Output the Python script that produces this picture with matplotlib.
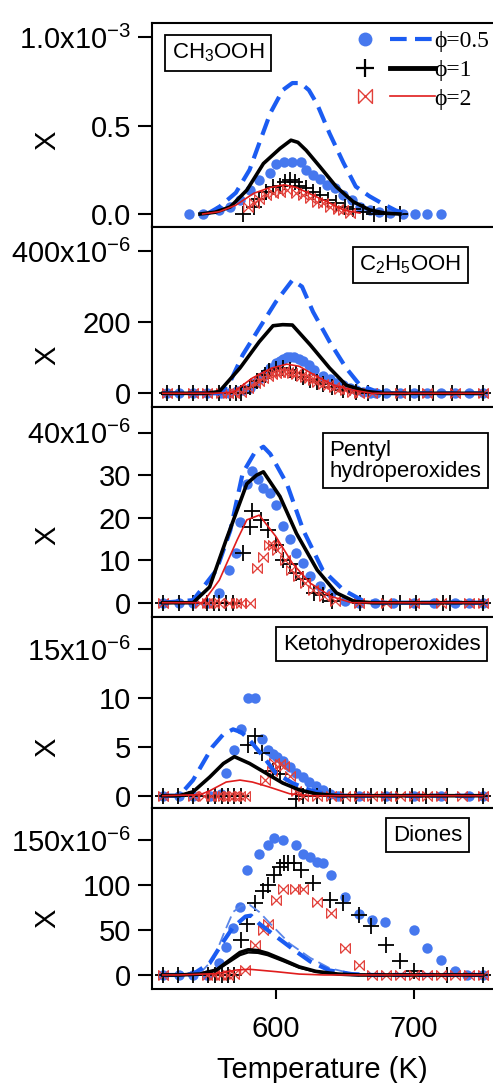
import matplotlib
matplotlib.use('Agg')
import matplotlib.pyplot as plt
from matplotlib.lines import Line2D
from matplotlib.legend_handler import HandlerBase

plt.rcParams['font.family'] = ['Liberation Sans', 'DejaVu Sans']
plt.rcParams['mathtext.fontset'] = 'custom'
plt.rcParams['mathtext.rm'] = 'Liberation Sans'
plt.rcParams['mathtext.it'] = 'Liberation Sans:italic'
plt.rcParams['mathtext.bf'] = 'Liberation Sans:bold'

# ---------------- data (temperature in K, mole fraction) ----------------
# CH3OOH, units of 1e-3
ch3_t_phi05 = [537, 547, 559, 567, 574, 581, 588, 596, 600, 606, 612, 618, 622, 627, 632, 637, 643, 649, 655, 661, 668, 675, 683, 692, 701, 710, 720]
ch3_x_phi05 = [0.0, 0.0, 0.02, 0.04, 0.08, 0.135, 0.19, 0.23, 0.285, 0.295, 0.295, 0.295, 0.25, 0.22, 0.20, 0.165, 0.145, 0.105, 0.08, 0.04, 0.02, 0.01, 0.005, 0.0, 0.0, 0.0, 0.0]
ch3_t_phi1 = [576, 584, 588, 593, 598, 603, 607, 610, 614, 617, 622, 627, 632, 638, 644, 650, 656, 663, 671, 680, 690]
ch3_x_phi1 = [0.0, 0.04, 0.087, 0.125, 0.15, 0.16, 0.18, 0.19, 0.18, 0.16, 0.145, 0.125, 0.107, 0.08, 0.06, 0.04, 0.03, 0.013, 0.0, 0.0, 0.0]
ch3_t_phi2 = [580, 584, 588, 593, 598, 603, 608, 615, 620, 625, 630, 634, 639, 645, 649, 654]
ch3_x_phi2 = [0.04, 0.06, 0.087, 0.107, 0.117, 0.125, 0.135, 0.117, 0.107, 0.09, 0.07, 0.06, 0.04, 0.03, 0.023, 0.004]
ch3_tm_05 = [550, 559, 571, 581, 588, 596, 605, 612, 618, 624, 630, 639, 649, 658, 668, 677, 687, 695]
ch3_xm_05 = [0.0, 0.04, 0.12, 0.25, 0.40, 0.57, 0.70, 0.74, 0.74, 0.70, 0.62, 0.455, 0.29, 0.155, 0.10, 0.06, 0.02, 0.0]
ch3_tm_1 = [545, 556, 567, 579, 591, 603, 611, 616, 622, 632, 644, 656, 668, 680, 690]
ch3_xm_1 = [0.0, 0.01, 0.04, 0.135, 0.285, 0.37, 0.417, 0.405, 0.36, 0.267, 0.153, 0.07, 0.023, 0.004, 0.0]
ch3_tm_2 = [547, 559, 571, 584, 596, 606, 615, 624, 637, 649, 661]
ch3_xm_2 = [0.0, 0.013, 0.05, 0.117, 0.15, 0.165, 0.15, 0.117, 0.07, 0.023, 0.005]

# C2H5OOH, units of 1e-6
c2_t_phi05 = [521, 530, 540, 550, 560, 566, 572, 576, 581, 585, 588, 591, 593, 596, 600, 603, 605, 608, 610, 613, 617, 620, 624, 628, 634, 639, 644, 649, 654, 658, 663, 668, 673, 680, 690, 700, 710, 720, 730, 740, 750]
c2_x_phi05 = [0, 0, 0, 0, 0, 2, 6, 10, 15, 28, 40, 48, 57, 70, 85, 92, 97, 101, 103, 102, 97, 90, 80, 66, 50, 40, 30, 22, 15, 10, 5, 2, 0, 0, 0, 0, 0, 0, 0, 0, 0]
c2_t_phi1 = [521, 530, 540, 550, 559, 567, 571, 575, 581, 586, 592, 595, 600, 605, 610, 615, 620, 625, 630, 634, 641, 649, 658, 667, 678, 688, 697, 704, 714, 728, 750]
c2_x_phi1 = [0, 0, 0, 0, 0, 0, 0, 0, 19, 35, 52, 62, 68, 70, 66, 57, 47, 38, 32, 26, 17, 9, 5, 0, 0, 0, 0, 0, 0, 0, 0]
c2_t_phi2 = [521, 540, 550, 560, 565, 570, 575, 580, 585, 588, 591, 594, 597, 600, 603, 606, 609, 612, 615, 618, 621, 624, 627, 630, 634, 638, 642, 646, 650, 655, 660, 670, 690, 710, 730, 750]
c2_x_phi2 = [0, 0, 0, 0, 0, 2, 5, 15, 28, 36, 43, 50, 55, 58, 61, 62, 61, 58, 55, 50, 46, 42, 38, 33, 27, 22, 17, 12, 8, 4, 1, 0, 0, 0, 0, 0]
c2_tm_05 = [518, 560, 567, 576, 588, 600, 612, 619, 627, 639, 651, 661, 673, 685, 750]
c2_xm_05 = [0, 0, 33, 108, 183, 257, 318, 300, 229, 145, 71, 23, 5, 0, 0]
c2_tm_1 = [518, 550, 559, 574, 588, 598, 605, 612, 625, 639, 651, 666, 678, 750]
c2_xm_1 = [0, 0, 5, 71, 145, 190, 193, 192, 136, 71, 23, 5, 0, 0]
c2_tm_2 = [518, 555, 569, 583, 597, 608, 617, 630, 642, 656, 670, 750]
c2_xm_2 = [0, 0, 3, 43, 71, 82, 76, 47, 23, 9, 0, 0]

# pentyl hydroperoxides, units of 1e-6
p_t_phi05 = [518, 530, 540, 550, 559, 566, 571, 574, 579, 583, 587, 591, 596, 600, 605, 610, 615, 620, 625, 632, 640, 650, 660, 672, 685, 700, 715, 730, 740, 750]
p_x_phi05 = [0, 0, 0, 0, 2.3, 7.7, 11.6, 19, 28, 31, 29, 27, 25.7, 23, 18, 15, 11.6, 9.3, 6.2, 3.9, 2.3, 0.5, 0, 0, 0, 0, 0, 0, 0, 0]
p_t_phi1 = [518, 530, 540, 550, 555, 559, 564, 569, 576, 581, 583, 589, 594, 600, 605, 610, 615, 620, 628, 634, 641, 661, 678, 690, 702, 721, 726, 750]
p_x_phi1 = [0, 0, 0, 0, 0, 0, 0, 0, 11.6, 17.8, 21.5, 19.5, 17, 13.5, 10, 9, 7, 5.5, 2.3, 1.9, 0.5, 0, 0, 0, 0, 0, 0, 0]
p_t_phi2 = [518, 545, 550, 555, 559, 566, 571, 575, 581, 586, 591, 595, 598, 601, 607, 611, 616, 621, 627, 635, 643, 660, 680, 700, 720, 740, 750]
p_x_phi2 = [0, 0, 0, 0, 0, 0, 0, 0, 0, 8.2, 10.8, 13.5, 13.5, 12.3, 10, 7.7, 6.2, 4.6, 3, 1.5, 0.5, 0, 0, 0, 0, 0, 0]
p_tm_05 = [518, 540, 557, 567, 576, 585, 591, 596, 608, 620, 634, 649, 663, 675, 750]
p_xm_05 = [0, 0.6, 7.7, 17, 30.5, 35.5, 36.7, 35, 28, 17, 7.7, 3, 0.5, 0, 0]
p_tm_1 = [518, 540, 552, 564, 579, 586, 591, 603, 615, 630, 644, 657, 670, 750]
p_xm_1 = [0, 0, 3.7, 14.8, 28, 30, 30.8, 25, 16.3, 7.7, 2.3, 0.3, 0, 0]
p_tm_2 = [518, 547, 559, 572, 579, 588, 600, 612, 625, 640, 655, 750]
p_xm_2 = [0, 0, 5.3, 14.8, 19.5, 20.6, 15.6, 9.3, 4.6, 1.5, 0, 0]

# ketohydroperoxides, units of 1e-6
k_t_phi05 = [518, 530, 540, 552, 560, 564, 570, 575, 580, 585, 590, 594, 598, 601, 605, 610, 615, 620, 624, 629, 634, 639, 645, 660, 680, 700, 720, 740, 750]
k_x_phi05 = [0, 0, 0, 0, 0.2, 2.3, 4.7, 6.8, 10, 10, 5.8, 4.7, 4.3, 4.0, 3.6, 2.9, 2.3, 1.9, 1.4, 1.0, 0.6, 0.2, 0, 0, 0, 0, 0, 0, 0]
k_t_phi1 = [518, 529, 540, 551, 556, 561, 565, 570, 575, 580, 585, 590, 598, 603, 615, 620, 630, 639, 649, 658, 669, 679, 688, 699, 709, 724, 750]
k_x_phi1 = [0, 0, 0, 0, 0, 0, 0, 0, 0, 5.2, 6.1, 4.4, 2.5, 2.2, -0.3, 0, 0, 0, 0, 0, 0, 0, 0, 0, 0, 0, 0]
k_t_phi2 = [518, 540, 548, 553, 558, 562, 566, 570, 574, 578, 592, 597, 599, 603, 606, 610, 615, 620, 630, 640, 650, 660, 670, 680, 690, 700, 710, 720, 735, 750]
k_x_phi2 = [0, 0, 0, 0, 0, 0, 0, 0, 0, 0, 1.6, 2.5, 3.4, 3.2, 3.0, 2.0, 0.5, 0, 0, 0, 0, 0, 0, 0, 0, 0, 0, 0, 0, 0]
k_tm_05 = [518, 530, 540, 554, 562, 569, 575, 581, 591, 600, 612, 624, 638, 650, 750]
k_xm_05 = [0, 0, 1.6, 5.0, 6.3, 6.8, 6.5, 5.7, 4.0, 2.3, 1.3, 0.6, 0.1, 0, 0]
k_tm_1 = [518, 530, 540, 552, 562, 570, 581, 593, 605, 617, 629, 645, 750]
k_xm_1 = [0, 0, 0.4, 1.9, 3.3, 4.0, 3.3, 2.3, 1.3, 0.6, 0.2, 0, 0]
k_tm_2 = [518, 545, 552, 564, 574, 583, 595, 610, 625, 750]
k_xm_2 = [0, 0.1, 0.5, 1.4, 1.6, 1.4, 0.9, 0.2, 0, 0]

# diones, units of 1e-6
d_t_phi05 = [518, 530, 540, 550, 559, 564, 569, 574, 579, 588, 594, 599, 605, 615, 620, 625, 630, 634, 640, 650, 660, 670, 679, 700, 710, 720, 730, 739, 750]
d_x_phi05 = [0, 0, 0, 0, 13, 31, 52, 76, 117, 135, 144, 152, 150, 144, 135, 131, 126, 124, 111, 87, 68, 61, 59, 50, 30, 17, 4, 0, 0]
d_t_phi1 = [518, 529, 540, 551, 556, 561, 565, 570, 575, 579, 585, 591, 594, 599, 603, 606, 609, 613, 618, 627, 639, 649, 660, 669, 680, 690, 700, 724, 750]
d_x_phi1 = [0, 0, 0, 0, 0, 0, 0, 0, 39, 57, 80, 93, 100, 111, 120, 124, 125, 124, 117, 102, 83, 80, 67, 54, 33, 15, 4, 0, 0]
d_t_phi2 = [518, 550, 555, 560, 565, 570, 578, 585, 591, 594, 600, 605, 614, 620, 630, 640, 650, 660, 670, 680, 690, 700, 710, 720, 730, 740, 750]
d_x_phi2 = [0, 0, 0, 0, 0, 1, 5.6, 33, 50, 57, 83, 96, 96, 96, 81, 69, 30, 11, 0, 0, 0, 0, 0, 0, 0, 0, 0]
d_tm_05 = [518, 530, 540, 552, 561, 569, 578, 582, 588, 600, 613, 625, 639, 655, 670, 750]
d_xm_05 = [0, 0, 1, 13, 35, 53, 65, 66, 57, 43, 28, 15, 5, 1, 0, 0]
d_tm_05b = [518, 545, 555, 562, 569, 575, 581, 588, 596, 610, 625, 639, 654, 670, 750]
d_xm_05b = [0, 2, 18, 45, 70, 77, 78, 70, 57, 35, 19, 7.6, 2, 0, 0]
d_tm_1 = [518, 530, 545, 557, 567, 574, 580, 587, 594, 605, 617, 629, 645, 660, 750]
d_xm_1 = [0, 0, 1, 5.6, 17, 25, 28, 27, 24, 17, 9, 4, 1, 0, 0]
d_xm_1b = [0, 0, 1, 5, 15, 22, 25, 24.5, 22, 15.5, 8, 3.5, 1, 0, 0]
d_tm_2 = [518, 530, 557, 572, 581, 600, 617, 635, 750]
d_xm_2 = [0, 0, 1.5, 5.6, 6.3, 3.7, 1, 0, 0]

species = ['CH$_3$OOH', 'C$_2$H$_5$OOH', 'Pentyl\nhydroperoxides', 'Ketohydroperoxides', 'Diones']
scales = [1e-3, 1e-6, 1e-6, 1e-6, 1e-6]
ytick_vals = [[0, 0.5, 1.0], [0, 200, 400], [0, 10, 20, 30, 40], [0, 5, 10, 15], [0, 50, 100, 150]]
ytick_labels = [['0.0', '0.5', '1.0x10$^{-3}$'], ['0', '200', '400x10$^{-6}$'],
                ['0', '10', '20', '30', '40x10$^{-6}$'], ['0', '5', '10', '15x10$^{-6}$'],
                ['0', '50', '100', '150x10$^{-6}$']]
phi_labels = ['\u03d5=0.5', '\u03d5=1', '\u03d5=2']

# ---------------- styles / layout ----------------
BLUE_DOT = '#4678ee'
BLUE_LINE = '#1b5cf2'
RED_MK = '#e2403a'
RED_LN = '#e01d1d'
BOWTIE = [(-1, -1), (-1, 1), (1, -1), (1, 1), (-1, -1)]

dot_kw = dict(ls='none', marker='o', ms=7.5, color=BLUE_DOT, mec='none')
plus_kw = dict(ls='none', marker='+', ms=11.5, mew=1.3, color='black')
bow_kw = dict(ls='none', marker=BOWTIE, ms=7, mew=0.9, mfc='none', mec=RED_MK)
dash_kw = dict(color=BLUE_LINE, lw=3, dashes=(4, 2))
black_kw = dict(color='black', lw=2.6)
red_kw = dict(color=RED_LN, lw=1.2)

# axes rows: (top px, bottom px) in a 493x1083 canvas
rows = [(22.7, 226.5), (226.5, 407), (407, 617), (617, 808), (808, 989)]
ylims = [(-0.0706, 1.081), (-38.5, 469), (-3.36, 46.05), (-1.26, 18.31), (-15.6, 185.6)]
label_xy = [(0.0586, 0.907), (0.907, 0.849), (0.966, 0.844), (0.963, 0.913), (0.910, 0.908)]
label_ha = ['left', 'right', 'right', 'right', 'right']
chi_y = [0.424, 0.288, 0.39, 0.319, 0.392]
W, H = 493.0, 1083.0
LEFT = 151.7


class MarkThenLine(HandlerBase):
    def create_artists(self, legend, orig_handle, xdescent, ydescent, width, height, fontsize, trans):
        mark, line = orig_handle
        y = height / 2 - ydescent
        m = Line2D([0.1 * width - xdescent], [y])
        m.update_from(mark)
        ln = Line2D([0.42 * width - xdescent, width - xdescent], [y, y])
        ln.update_from(line)
        m.set_transform(trans)
        ln.set_transform(trans)
        return [m, ln]


panels = [
    dict(dots=(ch3_t_phi05, ch3_x_phi05), plus=(ch3_t_phi1, ch3_x_phi1), bows=(ch3_t_phi2, ch3_x_phi2),
         dash=[(ch3_tm_05, ch3_xm_05)], black=[(ch3_tm_1, ch3_xm_1)], red=(ch3_tm_2, ch3_xm_2)),
    dict(dots=(c2_t_phi05, c2_x_phi05), plus=(c2_t_phi1, c2_x_phi1), bows=(c2_t_phi2, c2_x_phi2),
         dash=[(c2_tm_05, c2_xm_05)], black=[(c2_tm_1, c2_xm_1)], red=(c2_tm_2, c2_xm_2)),
    dict(dots=(p_t_phi05, p_x_phi05), plus=(p_t_phi1, p_x_phi1), bows=(p_t_phi2, p_x_phi2),
         dash=[(p_tm_05, p_xm_05)], black=[(p_tm_1, p_xm_1)], red=(p_tm_2, p_xm_2)),
    dict(dots=(k_t_phi05, k_x_phi05), plus=(k_t_phi1, k_x_phi1), bows=(k_t_phi2, k_x_phi2),
         dash=[(k_tm_05, k_xm_05)], black=[(k_tm_1, k_xm_1)], red=(k_tm_2, k_xm_2)),
    dict(dots=(d_t_phi05, d_x_phi05), plus=(d_t_phi1, d_x_phi1), bows=(d_t_phi2, d_x_phi2),
         dash=[(d_tm_05, d_xm_05)], thin=(d_tm_05b, d_xm_05b),
         black=[(d_tm_1, d_xm_1), (d_tm_1, d_xm_1b)], red=(d_tm_2, d_xm_2)),
]


def scaled(vals, s):
    return [v * s for v in vals]


fig = plt.figure(figsize=(W / 100, H / 100), dpi=100)

for i, p in enumerate(panels):
    top, bot = rows[i]
    ax = fig.add_axes([LEFT / W, 1 - bot / H, 1 - LEFT / W, (bot - top) / H])
    s = scales[i]

    ax.plot(p['dots'][0], scaled(p['dots'][1], s), **dot_kw)
    ax.plot(p['plus'][0], scaled(p['plus'][1], s), **plus_kw)
    ax.plot(p['bows'][0], scaled(p['bows'][1], s), **bow_kw)
    if 'thin' in p:
        ax.plot(p['thin'][0], scaled(p['thin'][1], s), color='#5b86e8', lw=1.3, dashes=(7, 3))
    for t, x in p['dash']:
        ax.plot(t, scaled(x, s), **dash_kw)
    for j, (t, x) in enumerate(p['black']):
        ax.plot(t, scaled(x, s), **(black_kw if j == 0 else dict(color='black', lw=1.6)))
    ax.plot(p['red'][0], scaled(p['red'][1], s), **red_kw)

    ax.set_xlim(510, 757.5)
    ax.set_ylim(ylims[i][0] * s, ylims[i][1] * s)
    ax.set_yticks([v * s for v in ytick_vals[i]])
    ax.set_yticklabels(ytick_labels[i])
    ax.tick_params(axis='y', direction='out', length=10, width=1.5, pad=5, labelsize=21)
    for side in ['left', 'top', 'bottom']:
        ax.spines[side].set_linewidth(1.5)
    ax.spines['right'].set_visible(False)

    if i == len(panels) - 1:
        ax.set_xticks([600, 700])
        ax.tick_params(axis='x', direction='out', length=7, width=1.5, pad=12, labelsize=21)
        ax.set_xlabel('Temperature (K)', fontsize=21, labelpad=9)
    else:
        ax.tick_params(axis='x', bottom=False, labelbottom=False)

    ax.text(-0.307, chi_y[i], 'X', rotation=90, fontsize=21, ha='center', va='center',
            transform=ax.transAxes)
    ax.text(label_xy[i][0], label_xy[i][1], species[i], transform=ax.transAxes,
            ha=label_ha[i], va='top', multialignment='left', fontsize=16, linespacing=1.0,
            bbox=dict(boxstyle='square,pad=0.3', fc='white', ec='black', lw=1.3))

    if i == 0:
        handles = [
            (Line2D([], [], ls='none', marker='o', ms=10, color=BLUE_DOT, mec='none'),
             Line2D([], [], **dash_kw)),
            (Line2D([], [], ls='none', marker='+', ms=13, mew=1.6, color='black'),
             Line2D([], [], color='black', lw=3.5)),
            (Line2D([], [], ls='none', marker=BOWTIE, ms=10, mew=1.0, mfc='none', mec=RED_MK),
             Line2D([], [], **red_kw)),
        ]
        ax.legend(handles, phi_labels, handler_map={tuple: MarkThenLine()},
                  loc='upper right', bbox_to_anchor=(0.99, 0.96), frameon=False,
                  handlelength=3.3, handletextpad=0.0, labelspacing=0.3,
                  borderpad=0, borderaxespad=0,
                  prop={'family': ['Liberation Serif', 'DejaVu Serif'], 'size': 17})

fig.savefig('out.png', dpi=100)
